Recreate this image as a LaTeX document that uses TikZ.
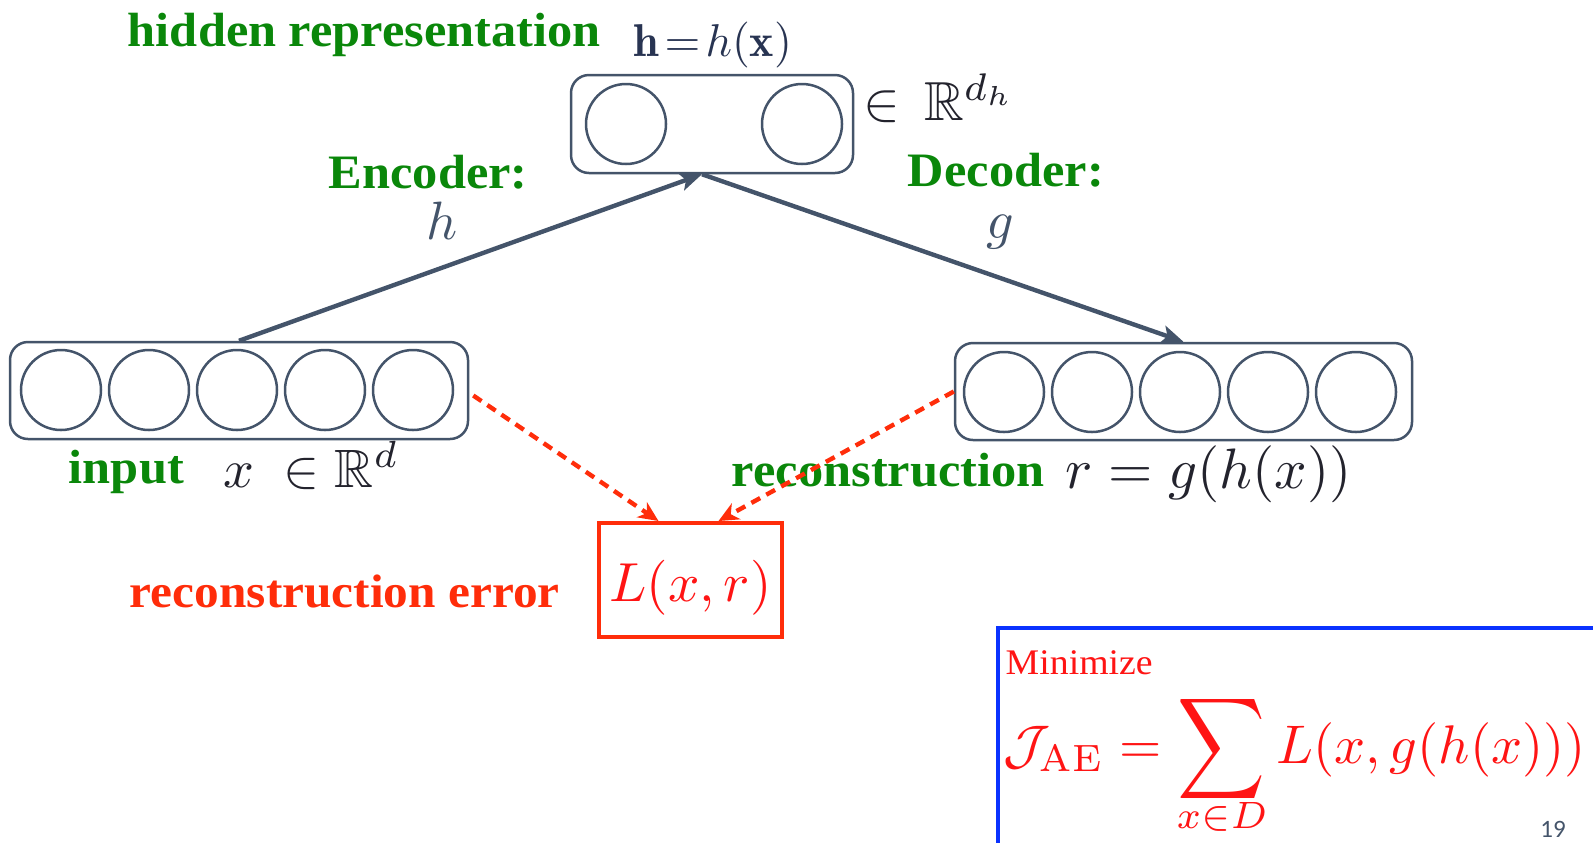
\documentclass[tikz,border=0pt]{standalone}
\usepackage{amssymb}
\usepackage{fontspec}
\newfontfamily\lbl[FakeStretch=1.05]{Liberation Serif}
\newfontfamily\numfont{Carlito}
\usetikzlibrary{arrows.meta}
\definecolor{slate}{RGB}{68,84,106}
\definecolor{grn}{RGB}{10,135,10}
\definecolor{ored}{RGB}{255,45,10}
\definecolor{fred}{RGB}{255,20,20}
\definecolor{bluebx}{RGB}{10,50,255}
\definecolor{ink}{RGB}{35,35,45}
\definecolor{hcol}{RGB}{40,52,82}
\begin{document}
\begin{tikzpicture}[x=0.5pt,y=-0.5pt,
  unit/.style={circle,draw=slate,line width=1.25pt,minimum size=40pt,inner sep=0pt},
  layer/.style={draw=slate,line width=1.25pt,rounded corners=9pt,inner sep=0pt,minimum height=48.5pt},
  grnlbl/.style={text=grn,font=\lbl\bfseries,scale=2.4,anchor=base west,inner sep=0pt},
  mth/.style={text=ink,inner sep=0pt,anchor=base west},
  encarrow/.style={draw=slate,line width=2.2pt,-{Stealth[length=11pt,width=9pt,inset=2.5pt]}},
  errarrow/.style={draw=ored,line width=2.2pt,dash pattern=on 5pt off 3.5pt,-{Stealth[length=10pt,width=9pt,inset=3pt]}}
]
\useasboundingbox (0,0) rectangle (1593,842);
\clip (0,0) rectangle (1593,842);

% layers
\node[layer,minimum width=141pt,minimum height=49pt] (tbox) at (712,124) {};
\node[unit] (t1) at (626,124) {};
\node[unit] (t2) at (802,124) {};

\node[layer,minimum width=229pt] (lbox) at (239,390.5) {};
\foreach \i/\x in {1/61,2/149,3/237,4/325,5/413}
  \node[unit] (l\i) at (\x,390) {};

\node[layer,minimum width=228.5pt] (rbox) at (1183.5,391.5) {};
\foreach \i/\x in {1/1004,2/1092,3/1180,4/1268,5/1356}
  \node[unit] (r\i) at (\x,392) {};

% labels top
\node[grnlbl] (hidlbl) at (127,46) {hidden representation};
\node[text=hcol,scale=2.3,inner sep=0pt,anchor=base west] (hdef) at (633,56) {$\mathbf{h}\mkern2mu{=}\mkern2mu h(\mathbf{x})$};
\node[mth,scale=2.75] (hdim) at (862,120) {$\in\,\mathbb{R}^{d_h}$};

\node[grnlbl] (enclbl) at (328,188) {Encoder:};
\node[text=slate,scale=2.7,inner sep=0pt,anchor=base] (encf) at (442,239) {$h$};
\node[grnlbl] (declbl) at (907,186) {Decoder:};
\node[text=slate,scale=2.7,inner sep=0pt,anchor=base] (decf) at (1000,238) {$g$};

% bottom labels
\node[grnlbl] (inlbl) at (68,483) {input};
\node[mth,scale=2.7] (indim) at (222,487) {$x\;\in\mathbb{R}^d$};
\node[grnlbl] (reclbl) at (731,486) {reconstruction};
\node[mth,scale=2.85] (recf) at (1064,488) {$r=g(h(x))$};

% loss
\node[draw=ored,line width=2pt,minimum width=91.5pt,minimum height=57pt,inner sep=0pt,text=fred] (lossbox) at (690.5,580) {\raisebox{-4pt}[\height][\depth]{\scalebox{2.75}{$L(x,r)$}}};
\node[text=ored,font=\lbl\bfseries,scale=2.35,anchor=base west,inner sep=0pt] (errlbl) at (129,607) {reconstruction error};

% arrows
\coordinate (hin) at ([xshift=-5pt]tbox.south);
\draw[encarrow] (lbox.north) -- (hin);
\draw[encarrow] (hin) -- (rbox.north);
\draw[errarrow] ([xshift=2pt,yshift=-2.5pt]lbox.east) -- ([xshift=-16pt]lossbox.north);
\draw[errarrow] (rbox.west) -- ([xshift=14pt]lossbox.north);

% objective box
\coordinate (bTR) at (1600,628);
\coordinate (bBL) at (998,850);
\draw[draw=bluebx,line width=2pt] (bTR) -| (bBL);
\node[text=fred,font=\lbl,scale=1.8,anchor=base west,inner sep=0pt] (minlbl) at (1005,674) {Minimize};
\node[text=fred,scale=2.72,anchor=base west,inner sep=0pt] (obj) at (1002,763) {$\displaystyle\mathcal{J}_{\mathrm{AE}}=\mathop{\vphantom{\sum}\smash{\vcenter{\hbox{\scalebox{1.12}[1.3]{$\displaystyle\sum$}}}}}\limits_{x\in D}L(x,g(h(x)))$};
\node[text=slate,font=\numfont,scale=1.25,anchor=base,inner sep=0pt] (pg) at (1553,837) {19};
\end{tikzpicture}
\end{document}
